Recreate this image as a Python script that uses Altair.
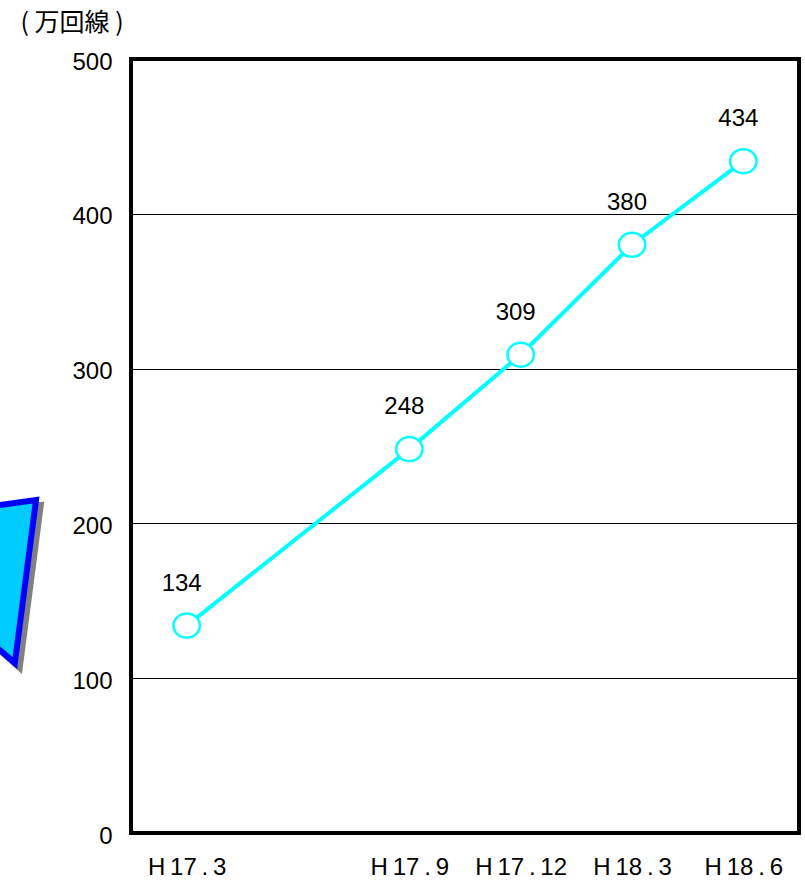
import altair as alt
import pandas as pd

# Survey points (months counted from H17.3) and line counts (10,000 lines)
periods = ["H\u200917\u2009.\u20093", "H\u200917\u2009.\u20099", "H\u200917\u2009.\u200912",
           "H\u200918\u2009.\u20093", "H\u200918\u2009.\u20096"]
month_index = [0, 6, 9, 12, 15]
subscribers = [134, 248, 309, 380, 434]
y_ticks = [0, 100, 200, 300, 400, 500]

# Callout shape at the left margin (same data space as the chart), closed polygon
callout_x = [-5.84, -4.06, -4.63, -5.84, -5.84]
callout_y = [209.3, 215.1, 109.8, 135.0, 209.3]
shadow_x = [-5.70, -3.93, -4.50, -5.70, -5.70]
shadow_y = [206.1, 211.9, 106.6, 131.8, 206.1]

FONT = "Liberation Sans, Arial, sans-serif"
CYAN = "#00FFFF"

series = pd.DataFrame({"m": month_index, "v": subscribers})
callout = pd.DataFrame({"m": callout_x, "v": callout_y, "k": range(len(callout_x))})
shadow = pd.DataFrame({"m": shadow_x, "v": shadow_y, "k": range(len(shadow_x))})

label_expr = " : ".join(
    f"datum.value == {m} ? '{p}'" for m, p in zip(month_index, periods)
) + " : ''"

x_enc = alt.X(
    "m:Q",
    scale=alt.Scale(domain=[-1.5, 16.5], nice=False, zero=False),
    axis=alt.Axis(
        values=month_index, labelExpr=label_expr, ticks=False, domain=False,
        grid=False, labelFontSize=24, labelFont=FONT, labelColor="black",
        labelPadding=22, labelFlush=False, labelOverlap=False, title=None,
    ),
)
y_enc = alt.Y(
    "v:Q",
    scale=alt.Scale(domain=[0, 500], nice=False),
    axis=alt.Axis(
        values=y_ticks, ticks=False, domain=False, grid=True,
        gridColor="black", gridWidth=1, labelFontSize=24, labelFont=FONT,
        labelColor="black", labelPadding=19, labelOffset=3,
        title="( 万回線 )", titleAngle=0, titleX=-111, titleY=-37,
        titleAlign="left", titleBaseline="middle",
        titleFont="Noto Sans CJK JP", titleFontSize=25,
        titleFontWeight="normal", titleColor="black",
    ),
)

shadow_layer = alt.Chart(shadow).mark_line(
    fill="#808080", stroke="#808080", strokeWidth=6, strokeJoin="miter"
).encode(x=x_enc, y=y_enc, order="k:Q")

callout_layer = alt.Chart(callout).mark_line(
    fill="#00CCFF", stroke="#0000FF", strokeWidth=6, strokeJoin="miter"
).encode(x=x_enc, y=y_enc, order="k:Q")

line_layer = alt.Chart(series).mark_line(
    color=CYAN, strokeWidth=4
).encode(x=x_enc, y=y_enc)

ellipse = "M-1.1,0A1.1,1,0,1,1,1.1,0A1.1,1,0,1,1,-1.1,0Z"
point_layer = alt.Chart(series).mark_point(
    shape=ellipse, size=576, filled=True, fill="white", stroke=CYAN,
    strokeWidth=2.5, opacity=1,
).encode(x=x_enc, y=y_enc)

text_layer = alt.Chart(series).mark_text(
    dx=-5, dy=-42, fontSize=24, font=FONT, color="black", baseline="middle"
).encode(x=x_enc, y=y_enc, text="v:Q")

chart = alt.layer(
    shadow_layer, callout_layer, line_layer, point_layer, text_layer
).properties(
    width=668,
    height=774,
    padding={"left": 131, "top": 59, "right": 6, "bottom": 49},
    autosize=alt.AutoSizeParams(type="none"),
    background="white",
).configure_view(stroke="black", strokeWidth=4)

chart.save("out.html", embed_options={"renderer": "svg", "actions": False})
